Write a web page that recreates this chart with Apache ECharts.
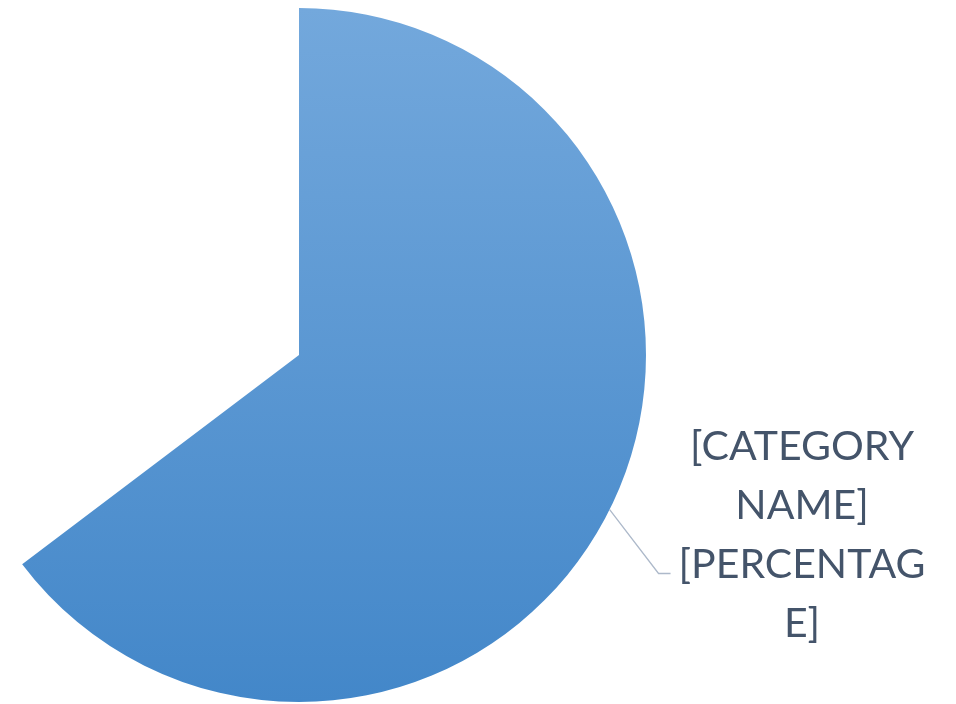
<!DOCTYPE html>
<html>
<head>
<meta charset="utf-8">
<title>pie</title>
<script src="https://cdn.jsdelivr.net/npm/echarts@6/dist/echarts.min.js"></script>
<style>
  html, body { margin: 0; padding: 0; background: #fff; }
  #main { width: 956px; height: 704px; }
</style>
</head>
<body>
<div id="main"></div>
<script>
// slice values (second slice is left blank in the original)
var names = ['[CATEGORY NAME]', ''];
var values = [64.7, 35.3];
// label text as it wraps in the picture
var labelLines = ['[CATEGORY', 'NAME]', '[PERCENTAG', 'E]'];

(function () {
    "use strict";
    var dom = document.getElementById('main');
    var myChart = echarts.init(dom);

    var data = [];
    for (var i = 0; i < values.length; i++) {
        var item = { name: names[i], value: values[i] };
        if (i > 0) {
            item.itemStyle = { color: 'rgba(0,0,0,0)' };
            item.label = { show: false };
            item.labelLine = { show: false };
        }
        data.push(item);
    }

    var option = {
        animation: false,
        series: [{
            type: 'pie',
            center: [299, 355],
            radius: [0, 347],
            startAngle: 90,
            clockwise: true,
            silent: true,
            itemStyle: {
                color: new echarts.graphic.LinearGradient(0, 0, 0, 1, [
                    { offset: 0, color: '#73a8dc' },
                    { offset: 1, color: '#4387c9' }
                ], false)
            },
            label: {
                show: true,
                position: 'outside',
                formatter: function () {
                    // trailing spacer line pulls the leader line down to the third row
                    return labelLines.map(function (s) { return '{c|' + s + '}'; }).join('\n') + '\n{s| }';
                },
                rich: {
                    c: {
                        align: 'center',
                        fontFamily: 'Lato, "Open Sans", sans-serif',
                        fontSize: 41,
                        lineHeight: 59,
                        padding: [0, 8, 0, 8],
                        color: '#44546a'
                    },
                    s: {
                        fontSize: 10,
                        lineHeight: 126
                    }
                }
            },
            labelLine: {
                show: true,
                length: 40,
                length2: 12,
                lineStyle: { color: '#adb9ca', width: 1.3 }
            },
            labelLayout: function (params) {
                if (params.dataIndex !== 0) return {};
                return { x: 802, y: 417, align: 'center', verticalAlign: 'top' };
            },
            data: data
        }]
    };

    myChart.setOption(option, true);
})();
</script>
</body>
</html>
